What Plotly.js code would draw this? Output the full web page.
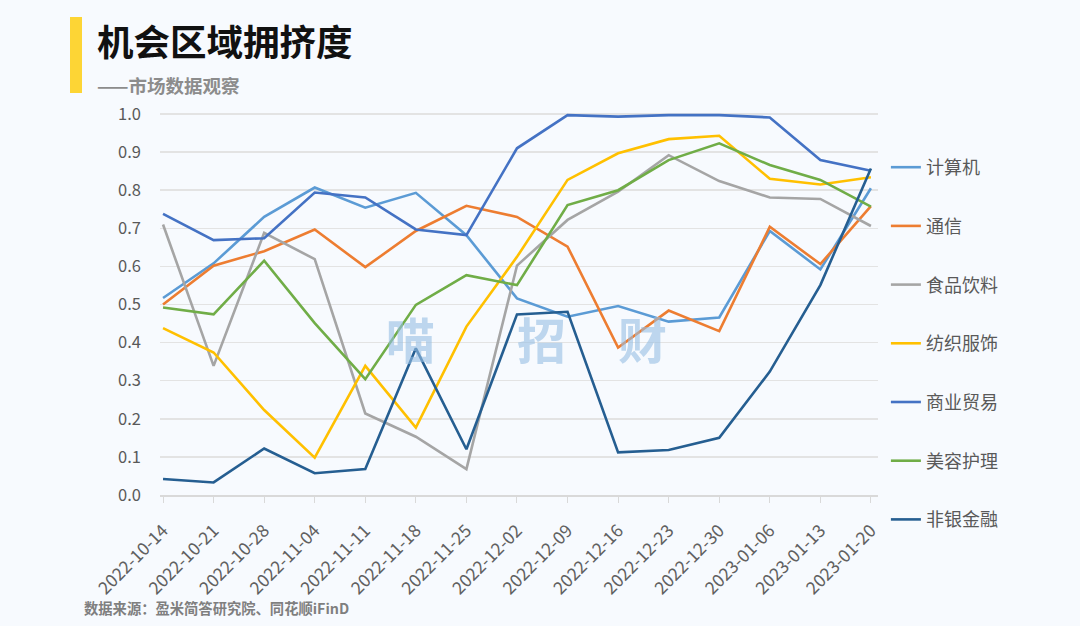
<!DOCTYPE html>
<html>
<head>
<meta charset="utf-8">
<script src="https://cdn.plot.ly/plotly-3.0.1.min.js"></script>
<style>
html,body{margin:0;padding:0;background:#F7FAFE;}
#chart{width:1080px;height:626px;}
</style>
</head>
<body>
<div id="chart"></div>
<script>
const dates = ["2022-10-14","2022-10-21","2022-10-28","2022-11-04","2022-11-11","2022-11-18","2022-11-25","2022-12-02","2022-12-09","2022-12-16","2022-12-23","2022-12-30","2023-01-06","2023-01-13","2023-01-20"];
const seriesNames = ["计算机","通信","食品饮料","纺织服饰","商业贸易","美容护理","非银金融"];
const computer = [0.517,0.608,0.730,0.807,0.754,0.793,0.682,0.516,0.468,0.496,0.455,0.466,0.693,0.592,0.805];
const telecom  = [0.500,0.602,0.640,0.697,0.598,0.693,0.759,0.730,0.652,0.387,0.484,0.430,0.704,0.606,0.758];
const food     = [0.710,0.339,0.688,0.619,0.214,0.153,0.068,0.602,0.722,0.796,0.892,0.824,0.781,0.777,0.706];
const textile  = [0.438,0.374,0.223,0.098,0.339,0.177,0.442,0.625,0.827,0.897,0.934,0.943,0.830,0.815,0.834];
const commerce = [0.738,0.669,0.674,0.794,0.781,0.697,0.682,0.910,0.997,0.993,0.997,0.997,0.991,0.879,0.851];
const beauty   = [0.492,0.474,0.615,0.451,0.304,0.499,0.577,0.551,0.761,0.800,0.879,0.923,0.866,0.827,0.757];
const nonbank  = [0.042,0.033,0.122,0.057,0.068,0.385,0.120,0.474,0.481,0.112,0.118,0.150,0.324,0.551,0.857];
const yTicks = [0,0.1,0.2,0.3,0.4,0.5,0.6,0.7,0.8,0.9,1.0];

const allValues = [computer, telecom, food, textile, commerce, beauty, nonbank];
const colors = ["#5B9BD5","#ED7D31","#A5A5A5","#FFC000","#4472C4","#70AD47","#255E91"];

const traces = allValues.map((vals, i) => ({
  type: 'scatter',
  mode: 'lines',
  x: dates,
  y: vals,
  name: seriesNames[i],
  legendgroup: 'g' + i,
  line: {color: colors[i], width: 2.6},
  hoverinfo: 'x+y+name'
}));

const CJK = '"Noto Sans CJK SC", "Noto Sans", sans-serif';
const W = 718, H = 389, L = 160, B = 495;
const px = v => (v - L) / W;
const py = v => (B - v) / H;
const wm = {family: CJK, size: 49, color: 'rgba(150,190,226,0.6)'};

const layout = {
  width: 1080,
  height: 626,
  paper_bgcolor: '#F7FAFE',
  plot_bgcolor: '#F7FAFE',
  font: {family: CJK, color: '#595959'},
  margin: {l: 160, r: 202, t: 106, b: 131},
  showlegend: true,
  legend: {
    x: 1.011, xanchor: 'left',
    y: py(149), yanchor: 'top',
    font: {family: CJK, size: 18, color: '#595959'},
    tracegroupgap: 32.3,
    bgcolor: 'rgba(0,0,0,0)',
    itemwidth: 30,
    maxheight: 1
  },
  xaxis: {
    type: 'category',
    range: [-0.06, 14.14],
    showgrid: false,
    showline: true,
    linecolor: '#D9D9D9',
    linewidth: 1.5,
    ticks: 'outside',
    ticklen: 6,
    tickcolor: '#D9D9D9',
    tickangle: -45,
    ticklabelstandoff: 11,
    tickfont: {family: CJK, size: 17.5, color: '#606060'},
    zeroline: false,
    fixedrange: true
  },
  yaxis: {
    range: [0, 1.021],
    tickvals: yTicks,
    tickformat: '.1f',
    showgrid: true,
    gridcolor: '#E3E3E3',
    gridwidth: 1.5,
    zeroline: false,
    showline: false,
    ticks: '',
    ticklabelstandoff: 18,
    tickfont: {family: CJK, size: 16.5, color: '#595959'},
    fixedrange: true
  },
  shapes: [
    {type: 'rect', xref: 'paper', yref: 'paper', layer: 'above',
     x0: px(70), x1: px(82), y0: py(93), y1: py(17),
     fillcolor: '#FDD535', line: {width: 0}}
  ],
  annotations: [
    {text: '<b>机会区域拥挤度</b>', xref: 'paper', yref: 'paper',
     x: px(95), y: py(40), xanchor: 'left', yanchor: 'middle',
     showarrow: false, font: {family: CJK, size: 36.5, color: '#111111'}},
    {text: '<b>——市场数据观察</b>', xref: 'paper', yref: 'paper',
     x: px(95), y: py(85), xanchor: 'left', yanchor: 'middle',
     showarrow: false, font: {family: CJK, size: 18.5, color: '#8C8C8C'}},
    {text: '<b>数据来源：盈米简答研究院、同花顺iFinD</b>', xref: 'paper', yref: 'paper',
     x: px(82), y: py(607), xanchor: 'left', yanchor: 'middle',
     showarrow: false, font: {family: CJK, size: 14.3, color: '#7F7F7F'}},
    {text: '<b>喵</b>', xref: 'paper', yref: 'paper', x: px(410), y: py(337),
     showarrow: false, font: wm},
    {text: '<b>招</b>', xref: 'paper', yref: 'paper', x: px(541), y: py(337),
     showarrow: false, font: wm},
    {text: '<b>财</b>', xref: 'paper', yref: 'paper', x: px(669), y: py(337),
     showarrow: false, font: wm}
  ]
};

Plotly.newPlot('chart', traces, layout, {displayModeBar: false, staticPlot: true});
</script>
</body>
</html>
